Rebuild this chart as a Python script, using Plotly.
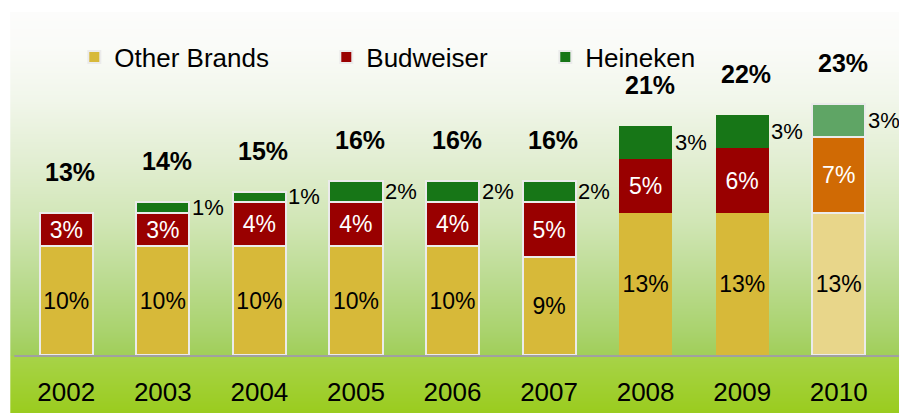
import zlib, struct, base64
import plotly.graph_objects as go

# ---- data ----
years = ["2002", "2003", "2004", "2005", "2006", "2007", "2008", "2009", "2010"]
other_brands = [10, 10, 10, 10, 10, 9, 13, 13, 13]
budweiser = [3, 3, 4, 4, 4, 5, 5, 6, 7]
heineken = [0, 1, 1, 2, 2, 2, 3, 3, 3]
totals = [13, 14, 15, 16, 16, 16, 21, 22, 23]

# ---- styling ----
FONT = "Liberation Sans, Arial, sans-serif"
W, H = 899, 413
# plot area in screen pixels
P_LEFT, P_RIGHT, P_TOP, P_BOTTOM = 17.7, 886.7, 10, 355
ML, MR, MT, MB = P_LEFT, W - P_RIGHT, P_TOP, H - P_BOTTOM
PW, PH = W - ML - MR, H - MT - MB

other_col = ["#d7b939"] * 8 + ["#e8d68a"]
bud_col = ["#990000"] * 8 + ["#d06a04"]
hein_col = ["#177617"] * 8 + ["#5fa565"]
line_w = [2, 2, 2, 2, 2, 2, 0, 0, 2]
line_c = "#ebebeb"


def lerp_stops(stops, y):
    for (y0, c0), (y1, c1) in zip(stops, stops[1:]):
        if y0 <= y <= y1:
            t = (y - y0) / (y1 - y0) if y1 > y0 else 0
            return tuple(int(round(a + (b - a) * t)) for a, b in zip(c0, c1))
    return stops[-1][1]


grad = [(12, (252, 252, 251)), (45, (250, 251, 248)), (100, (241, 246, 234)),
        (160, (226, 238, 210)), (220, (209, 230, 182)), (280, (187, 219, 144)),
        (330, (170, 211, 110)), (356, (160, 206, 88))]
band = [(356, (167, 211, 72)), (413, (154, 204, 30))]


def png_uri(rows, width=2):
    raw = b"".join(b"\x00" + bytes(c) * width for c in rows)

    def chunk(t, d):
        return struct.pack(">I", len(d)) + t + d + struct.pack(">I", zlib.crc32(t + d) & 0xffffffff)

    ihdr = struct.pack(">IIBBBBB", width, len(rows), 8, 2, 0, 0, 0)
    png = b"\x89PNG\r\n\x1a\n" + chunk(b"IHDR", ihdr) + chunk(b"IDAT", zlib.compress(raw)) + chunk(b"IEND", b"")
    return "data:image/png;base64," + base64.b64encode(png).decode()


rows = []
for y in range(12, H):
    rows.append(lerp_stops(grad, y) if y < 356 else lerp_stops(band, y))
bg_uri = png_uri(rows)


def px_x(sx):
    return (sx - P_LEFT) / PW


def px_y(sy):
    return (P_BOTTOM - sy) / PH


fig = go.Figure()
fig.add_bar(x=years, y=other_brands, name="Other Brands", legend="legend",
            marker=dict(color=other_col, line=dict(color=line_c, width=line_w)),
            text=[f"{v}%" for v in other_brands], textposition="inside",
            insidetextanchor="middle", constraintext="none", textangle=0,
            textfont=dict(family=FONT, size=23, color="black"), hoverinfo="skip")
fig.add_bar(x=years, y=budweiser, name="Budweiser", legend="legend2",
            marker=dict(color=bud_col, line=dict(color=line_c, width=line_w)),
            text=[f"{v}%" for v in budweiser], textposition="inside",
            insidetextanchor="middle", constraintext="none", textangle=0,
            textfont=dict(family=FONT, size=23, color="white"), hoverinfo="skip")
fig.add_bar(x=years, y=heineken, name="Heineken", legend="legend3",
            marker=dict(color=hein_col, line=dict(color=line_c, width=line_w)),
            textposition="none", hoverinfo="skip")

ann = []
for i, (o, b, h, t) in enumerate(zip(other_brands, budweiser, heineken, totals)):
    if h > 0:
        ann.append(dict(x=i, y=o + b + h / 2, text=f"{h}%", showarrow=False,
                        xanchor="left", yanchor="middle", xshift=27,
                        font=dict(family=FONT, size=22, color="black")))
    ann.append(dict(x=i, y=t, text=f"<b>{t}%</b>", showarrow=False, height=24,
                    xanchor="center", yanchor="middle", yshift=41, xshift=4,
                    font=dict(family=FONT, size=25, color="black")))

leg_common = dict(orientation="h", yanchor="middle", xanchor="left",
                  bgcolor="rgba(0,0,0,0)", font=dict(family=FONT, size=26, color="black"),
                  y=px_y(57))

fig.update_layout(
    width=W, height=H,
    margin=dict(l=ML, r=MR, t=MT, b=MB, autoexpand=False),
    paper_bgcolor="white", plot_bgcolor="rgba(0,0,0,0)",
    barmode="stack", bargap=0.45,
    showlegend=True,
    legend=dict(x=px_x(74), **leg_common),
    legend2=dict(x=px_x(326), **leg_common),
    legend3=dict(x=px_x(545), **leg_common),
    xaxis=dict(type="category", range=[-0.5, len(years) - 0.5], showgrid=False,
               zeroline=False, showline=False, automargin=False,
               ticks="", tickfont=dict(family=FONT, size=26, color="black"),
               ticklabelstandoff=19, fixedrange=True),
    yaxis=dict(range=[0, PH / 10.9], visible=False, fixedrange=True),
    annotations=ann,
    images=[dict(source=bg_uri, xref="paper", yref="paper",
                 x=px_x(10), y=px_y(12), sizex=(W - 10) / PW, sizey=(H - 12) / PH,
                 xanchor="left", yanchor="top", sizing="stretch", layer="below")],
    shapes=[dict(type="line", xref="paper", yref="paper", x0=px_x(14), x1=px_x(W),
                 y0=px_y(356), y1=px_y(356), line=dict(color="#a0a0a0", width=2),
                 layer="below")],
)

fig.write_html("out.html", config={"displayModeBar": False, "staticPlot": True},
               post_script="document.body.style.margin='0';document.body.style.overflow='hidden';")
